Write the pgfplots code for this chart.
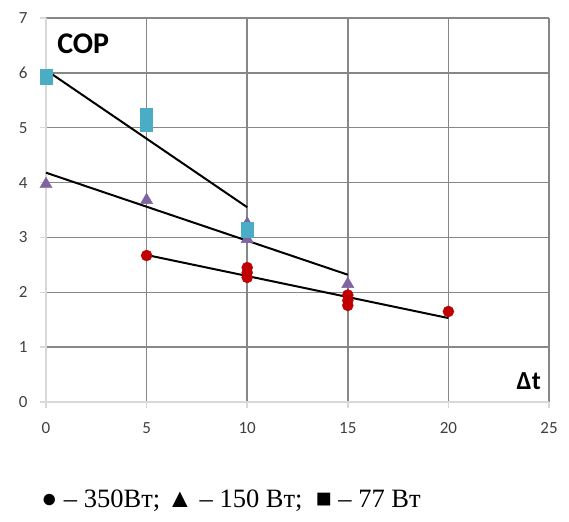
\documentclass[border=0pt]{standalone}
\usepackage{pgfplots}
\pgfplotsset{compat=1.18}
\usepackage{fontspec}
\setmainfont{Carlito}
\newfontfamily\timesf{Liberation Serif}
\definecolor{cred}{HTML}{C00000}
\definecolor{cpurple}{HTML}{8064A2}
\definecolor{ccyan}{HTML}{4BACC6}
\definecolor{cgrid}{HTML}{878787}
\definecolor{caxis}{HTML}{D9D9D9}
\definecolor{ctick}{HTML}{404040}
\begin{document}
\begin{tikzpicture}
\path[use as bounding box] (-46bp,-120bp) rectangle (523bp,402bp);
\begin{axis}[
  at={(0,0)}, anchor=south west,
  scale only axis, width=503bp, height=384bp,
  xmin=0, xmax=25, ymin=0, ymax=7,
  xtick={0,5,10,15,20,25}, ytick={0,1,2,3,4,5,6,7},
  axis x line=bottom, axis y line=left,
  axis line style={-, draw=caxis, line width=1.5bp},
  grid=major,
  major grid style={draw=cgrid, line width=1.5bp},
  tick align=outside, major tick length=6bp,
  tick style={draw=caxis, line width=1.5bp},
  ticklabel style={font=\fontsize{17bp}{20bp}\selectfont, text=ctick},
  xticklabel style={yshift=-11bp},
  yticklabel style={xshift=-9bp},
  /pgf/number format/assume math mode=true,
  clip=false,
]
\addplot[only marks, mark=triangle*, mark size=7bp, color=cpurple] coordinates {
  (0,3.97) (5,3.68) (10,3.25) (10,2.97) (15,2.15)};
\addplot[only marks, mark=*, mark size=5.5bp, color=cred] coordinates {
  (5,2.67) (10,2.45) (10,2.36) (10,2.27) (15,1.95) (15,1.85) (15,1.76) (20,1.65)};
\addplot[only marks, mark=square*, mark size=6bp, color=ccyan] coordinates {
  (0,5.95) (0,5.9) (5,5.25) (5,5.05) (10,3.17) (10,3.12)};
\addplot[black, line width=2bp] coordinates {(0,6.05) (10,3.55)};
\addplot[black, line width=2bp] coordinates {(0,4.18) (15,2.32)};
\addplot[black, line width=2bp] coordinates {(5,2.68) (20,1.53)};
\node[anchor=base west, inner sep=0pt, font=\fontsize{30bp}{32bp}\selectfont\bfseries] at (axis cs:0.55,6.36) {COP};
\node[anchor=base east, inner sep=0pt, font=\fontsize{26bp}{28bp}\selectfont\bfseries] at (axis cs:24.6,0.22) {Δt};
\end{axis}
\node[anchor=base, inner sep=0pt, font=\timesf\fontsize{26.5bp}{30bp}\selectfont] at (185bp,-105bp) {● – 350Вт; ▲ – 150 Вт; \ ■ – 77 Вт};
\end{tikzpicture}
\end{document}
